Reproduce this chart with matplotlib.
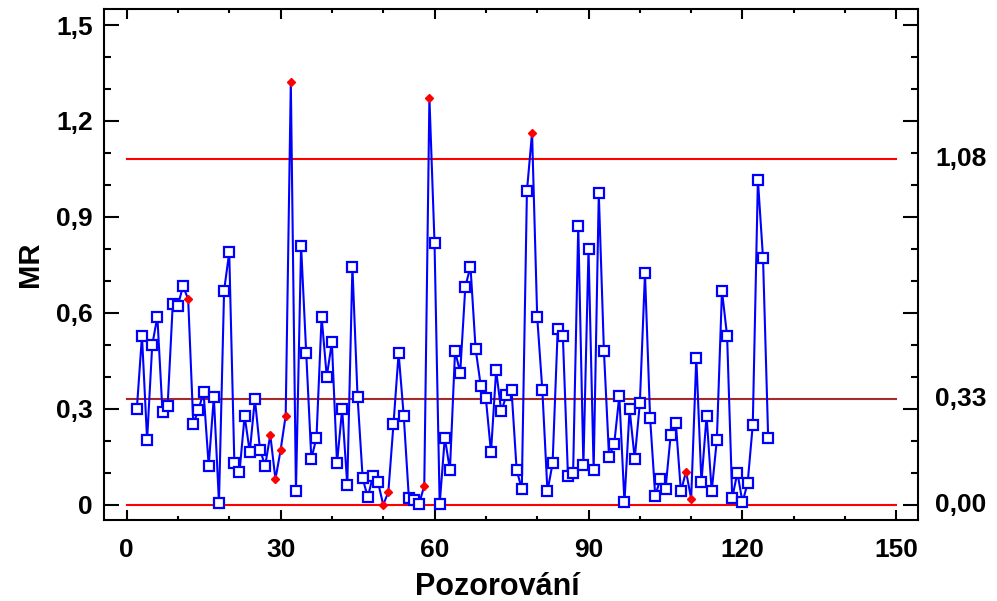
import numpy as np
import matplotlib
matplotlib.use('Agg')
import matplotlib.pyplot as plt
import matplotlib.transforms as mtransforms
from matplotlib.ticker import MultipleLocator, FuncFormatter

# klouzavá rozpětí (MR), pozorování 2..125
pozorovani = list(range(2, 126))
mr = [0.300, 0.528, 0.203, 0.500, 0.588, 0.290, 0.310, 0.628, 0.623, 0.684,
      0.643, 0.253, 0.297, 0.352, 0.122, 0.338, 0.007, 0.670, 0.789, 0.130,
      0.102, 0.278, 0.165, 0.331, 0.172, 0.122, 0.219, 0.080, 0.170, 0.279,
      1.322, 0.042, 0.810, 0.474, 0.144, 0.210, 0.588, 0.401, 0.508, 0.130,
      0.299, 0.062, 0.745, 0.338, 0.083, 0.023, 0.091, 0.070, 0.000, 0.040,
      0.252, 0.474, 0.278, 0.021, 0.014, 0.003, 0.060, 1.273, 0.818, 0.002,
      0.210, 0.109, 0.481, 0.413, 0.682, 0.745, 0.488, 0.373, 0.333, 0.164,
      0.420, 0.292, 0.342, 0.359, 0.109, 0.049, 0.981, 1.163, 0.588, 0.359,
      0.042, 0.130, 0.549, 0.528, 0.089, 0.101, 0.873, 0.123, 0.799, 0.109,
      0.974, 0.481, 0.151, 0.190, 0.340, 0.008, 0.299, 0.144, 0.318, 0.724,
      0.271, 0.028, 0.081, 0.049, 0.217, 0.257, 0.042, 0.104, 0.019, 0.460,
      0.070, 0.278, 0.042, 0.203, 0.669, 0.528, 0.021, 0.101, 0.008, 0.068,
      0.250, 1.016, 0.771, 0.210]

# body označené červeně (mimo meze / porušená pravidla)
oznacene = [12, 28, 29, 30, 31, 32, 50, 51, 58, 59, 79, 109, 110]

ucl = 1.08
cl = 0.33
lcl = 0.0
meze_popisky = ['1,08', '0,33', '0,00']

x = np.array(pozorovani)
y = np.array(mr)
red = np.isin(x, oznacene)

plt.rcParams['font.family'] = ['Liberation Sans', 'DejaVu Sans']
plt.rcParams['font.weight'] = 'bold'

fig = plt.figure(figsize=(9.97, 6.01), dpi=100)
ax = fig.add_axes([0.1043, 0.135, 0.8165, 0.85])

ax.plot([0, 150], [ucl, ucl], color='#ff0000', lw=1.5, zorder=1)
ax.plot([0, 150], [cl, cl], color='#a52a2a', lw=1.5, zorder=1)
ax.plot([0, 150], [lcl, lcl], color='#ff0000', lw=1.5, zorder=1)

ax.plot(x, y, color='#0000ff', lw=1.5, zorder=2)
ax.plot(x[~red], y[~red], ls='none', marker='s', ms=7, mfc='white',
        mec='#0000ff', mew=1.6, zorder=3)
ax.plot(x[red], y[red], ls='none', marker='D', ms=4.5, mfc='#ff0000',
        mec='#ff0000', zorder=3)

ax.set_xlim(-4.4, 154.2)
ax.set_ylim(-0.047, 1.55)

ax.xaxis.set_major_locator(MultipleLocator(30))
ax.xaxis.set_minor_locator(MultipleLocator(10))
ax.yaxis.set_major_locator(MultipleLocator(0.3))
ax.yaxis.set_minor_locator(MultipleLocator(0.1))

def carka(v, pos):
    if abs(v) < 1e-9:
        return '0'
    return ('%.1f' % v).replace('.', ',')

ax.yaxis.set_major_formatter(FuncFormatter(carka))

ax.tick_params(axis='both', which='both', direction='in', width=1.5,
               top=True, right=True, labelsize=19)
ax.tick_params(axis='x', which='major', length=7, pad=13)
ax.tick_params(axis='x', which='minor', length=3)
ax.tick_params(axis='y', which='major', length=11, pad=8)
ax.tick_params(axis='y', which='minor', length=5)
for s in ax.spines.values():
    s.set_linewidth(1.5)

ax.set_xlabel('Pozorování', fontsize=22, fontweight='bold')
ax.xaxis.set_label_coords(0.483, -0.103)
ax.set_ylabel('MR', fontsize=21, fontweight='bold', labelpad=9)

trans = mtransforms.blended_transform_factory(ax.transAxes, ax.transData)
for val, txt in zip([ucl, cl, lcl], meze_popisky):
    ax.text(1.021, val, txt, transform=trans, fontsize=19, fontweight='bold',
            va='center', ha='left')

fig.savefig('out.png', dpi=100)
